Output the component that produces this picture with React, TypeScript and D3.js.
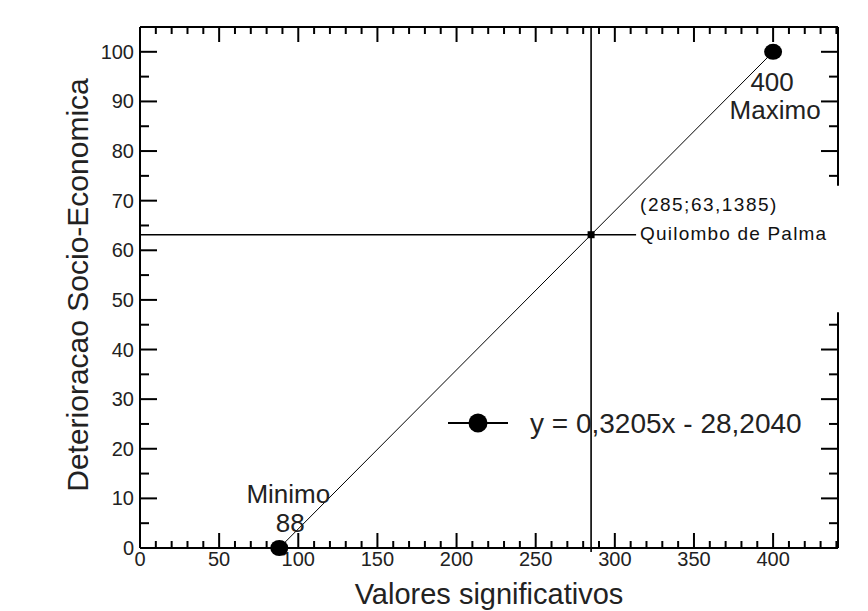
import React from "react";
import * as d3 from "d3";

const W = 868;
const H = 611;
const margin = { top: 27, right: 30, bottom: 63, left: 140 };

// observed points (min and max of the index)
const pointsX = [88, 400];
const pointsY = [0, 100];
// regression line y = 0.3205x - 28.2040
const slope = 0.3205;
const intercept = -28.204;
// highlighted municipality
const markX = 285;
const markY = 63.1385;
const markLabels = ["(285;63,1385)", "Quilombo de Palma"];
const legendText = "y = 0,3205x - 28,2040";
const xTitle = "Valores significativos";
const yTitle = "Deterioracao Socio-Economica";
const xTicks = [0, 50, 100, 150, 200, 250, 300, 350, 400];
const yTicks = [0, 10, 20, 30, 40, 50, 60, 70, 80, 90, 100];

const FONT = "'Liberation Sans', Arial, sans-serif";

export default function App() {
  const innerR = W - margin.right;
  const innerB = H - margin.bottom;
  const x = d3.scaleLinear().domain([0, 441]).range([margin.left, innerR]);
  const y = d3.scaleLinear().domain([0, 105]).range([innerB, margin.top]);

  const xMinor = d3.range(0, 441, 10);
  const yMinor = d3.range(0, 105, 5);

  // right border has a gap (behind the label)
  const rightGap = [47.5, 73];

  const line = d3
    .line<number>()
    .x((d) => x(d))
    .y((d) => y(slope * d + intercept));

  return (
    <div style={{ position: "absolute", left: 0, top: 0, background: "#fff" }}>
      <svg width={W} height={H} style={{ display: "block", fontFamily: FONT }}>
        <rect width={W} height={H} fill="#fff" />

        {/* frame */}
        <g stroke="#000" strokeWidth={2} fill="none">
          <line x1={margin.left} x2={margin.left} y1={margin.top} y2={innerB} />
          <line x1={margin.left} x2={innerR} y1={innerB} y2={innerB} />
          <line x1={margin.left} x2={innerR} y1={margin.top} y2={margin.top} />
          <line x1={innerR} x2={innerR} y1={margin.top} y2={y(rightGap[1])} />
          <line x1={innerR} x2={innerR} y1={y(rightGap[0])} y2={innerB} />
        </g>

        {/* x ticks, bottom and top */}
        <g stroke="#000" strokeWidth={2}>
          {xMinor.map((v) => {
            const major = v % 50 === 0;
            const len = major ? 15 : 7;
            return (
              <g key={"xt" + v}>
                <line x1={x(v)} x2={x(v)} y1={innerB} y2={innerB - len} />
                <line x1={x(v)} x2={x(v)} y1={margin.top} y2={margin.top + len} />
              </g>
            );
          })}
          {yMinor.map((v) => {
            const major = v % 10 === 0;
            const len = major ? 17 : 9;
            const inGap = v > rightGap[0] && v < rightGap[1];
            return (
              <g key={"yt" + v}>
                <line x1={margin.left} x2={margin.left + len} y1={y(v)} y2={y(v)} />
                {!inGap && <line x1={innerR} x2={innerR - len} y1={y(v)} y2={y(v)} />}
              </g>
            );
          })}
        </g>

        {/* tick labels */}
        <g fontSize={20} fill="#222">
          {xTicks.map((v) => (
            <text key={"xl" + v} x={x(v)} y={innerB + 18} textAnchor="middle">
              {v}
            </text>
          ))}
          {yTicks.map((v) => (
            <text key={"yl" + v} x={margin.left - 6} y={y(v)} dy="0.35em" textAnchor="end">
              {v}
            </text>
          ))}
        </g>

        {/* axis titles */}
        <text x={(margin.left + innerR) / 2} y={604} textAnchor="middle" fontSize={29} fill="#222">
          {xTitle}
        </text>
        <text
          transform={`translate(88,285) rotate(-90)`}
          textAnchor="middle"
          fontSize={30}
          fill="#222"
        >
          {yTitle}
        </text>

        {/* crosshair */}
        <g stroke="#000" strokeWidth={1.6}>
          <line x1={x(markX)} x2={x(markX)} y1={margin.top} y2={innerB + 4} />
          <line x1={margin.left} x2={x(markX) + 45} y1={y(markY)} y2={y(markY)} />
        </g>
        <rect x={x(markX) - 3.5} y={y(markY) - 3.5} width={7} height={7} fill="#000" />

        {/* regression line */}
        <path d={line(pointsX) ?? ""} stroke="#000" strokeWidth={1} fill="none" />

        {/* points */}
        {pointsX.map((v, i) => (
          <ellipse key={"p" + i} cx={x(v)} cy={y(pointsY[i])} rx={9} ry={8} fill="#000" />
        ))}

        {/* point labels */}
        <g fontSize={26} fill="#222" textAnchor="middle">
          <text x={x(pointsX[0]) + 9} y={y(pointsY[0]) - 45}>Minimo</text>
          <text x={x(pointsX[0]) + 11} y={y(pointsY[0]) - 16}>{pointsX[0]}</text>
          <text x={x(pointsX[1]) - 1} y={y(pointsY[1]) + 39}>{pointsX[1]}</text>
          <text x={x(pointsX[1]) + 2} y={y(pointsY[1]) + 67}>Maximo</text>
        </g>

        {/* mark labels */}
        <g fontSize={19} fill="#111" letterSpacing={1.5}>
          <text x={x(markX) + 49} y={y(markY) - 24}>{markLabels[0]}</text>
          <text x={x(markX) + 49} y={y(markY) + 5} letterSpacing={1.2}>{markLabels[1]}</text>
        </g>

        {/* legend */}
        <g>
          <line x1={448} x2={508} y1={423} y2={423} stroke="#000" strokeWidth={2} />
          <circle cx={478} cy={423} r={9.5} fill="#000" />
          <text x={530} y={433} fontSize={28} fill="#222">
            {legendText}
          </text>
        </g>
      </svg>
    </div>
  );
}
